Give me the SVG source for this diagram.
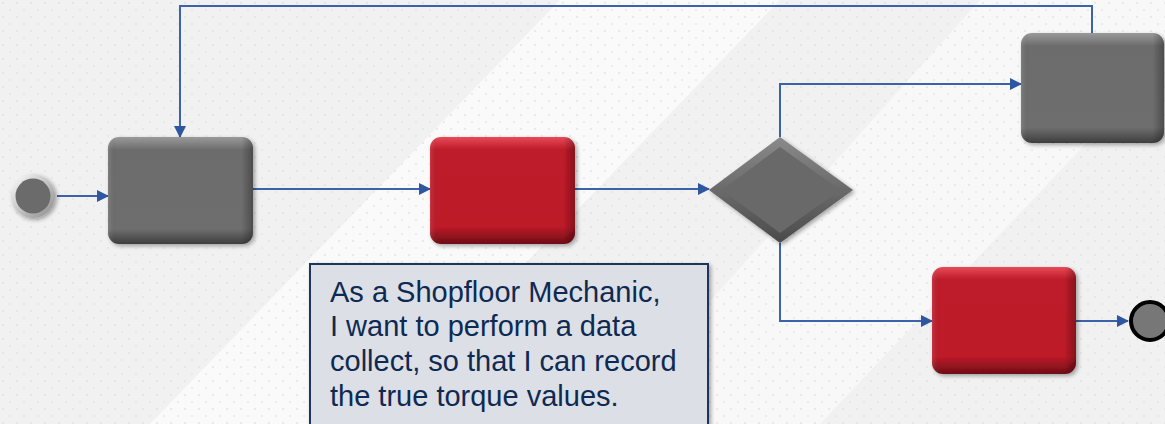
<svg xmlns="http://www.w3.org/2000/svg" width="1165" height="424" viewBox="0 0 1165 424">
<defs>
<style>
.conn{fill:none;stroke:#3c63a9;stroke-width:2;}
.txt{font-family:"Liberation Sans",Arial,sans-serif;font-size:29px;fill:#0e2a52;}
</style>
<pattern id="dots" width="14" height="14" patternUnits="userSpaceOnUse">
<circle cx="3" cy="3" r="1" fill="#e3e3e3"/>
<circle cx="10" cy="10" r="1" fill="#e6e6e6"/>
</pattern>
<linearGradient id="gGray" x1="0" y1="0" x2="0" y2="1">
<stop offset="0" stop-color="#9a9a9a"/>
<stop offset="0.12" stop-color="#6c6c6c"/>
<stop offset="0.86" stop-color="#6e6e6e"/>
<stop offset="1" stop-color="#3e3e3e"/>
</linearGradient>
<linearGradient id="gRed" x1="0" y1="0" x2="0" y2="1">
<stop offset="0" stop-color="#e84a58"/>
<stop offset="0.12" stop-color="#be1b29"/>
<stop offset="0.84" stop-color="#bd1a28"/>
<stop offset="1" stop-color="#6e0e17"/>
</linearGradient>
<linearGradient id="gSide" x1="0" y1="0" x2="1" y2="0">
<stop offset="0" stop-color="#fff" stop-opacity="0.12"/>
<stop offset="0.06" stop-color="#000" stop-opacity="0"/>
<stop offset="0.92" stop-color="#000" stop-opacity="0"/>
<stop offset="1" stop-color="#000" stop-opacity="0.3"/>
</linearGradient>
<linearGradient id="gDiam" x1="0" y1="0" x2="0" y2="1">
<stop offset="0" stop-color="#8a8a8a"/>
<stop offset="1" stop-color="#4a4a4a"/>
</linearGradient>
<linearGradient id="gRing" x1="0" y1="0" x2="1" y2="1">
<stop offset="0" stop-color="#ffffff"/>
<stop offset="1" stop-color="#8a8a8a"/>
</linearGradient>
<filter id="sh" x="-10%" y="-10%" width="130%" height="130%">
<feGaussianBlur in="SourceAlpha" stdDeviation="2"/>
<feOffset dx="2" dy="2"/>
<feComponentTransfer><feFuncA type="linear" slope="0.35"/></feComponentTransfer>
<feMerge><feMergeNode/><feMergeNode in="SourceGraphic"/></feMerge>
</filter>
<marker id="arr" markerWidth="12" markerHeight="12" refX="11" refY="6" orient="auto" markerUnits="userSpaceOnUse">
<path d="M0,0 L12,6 L0,12 Z" fill="#2f57a0"/>
</marker>
</defs>

<g id="background">
<rect width="1165" height="424" fill="#f1f1f1"/>
<polygon points="560,0 780,0 370,424 150,424" fill="#fafafa"/>
<polygon points="980,0 1165,0 1165,60 820,424 600,424" fill="#f8f8f8"/>
<rect width="1165" height="424" fill="url(#dots)"/>
</g>

<g id="connectors">
<path class="conn" d="M57,196 L108,196" marker-end="url(#arr)"/>
<path class="conn" d="M253,189 L430,189" marker-end="url(#arr)"/>
<path class="conn" d="M575,189 L709,189" marker-end="url(#arr)"/>
<path class="conn" d="M780,137 L780,84 L1021,84" marker-end="url(#arr)"/>
<path class="conn" d="M780,243 L780,321 L932,321" marker-end="url(#arr)"/>
<path class="conn" d="M1076,321 L1128,321" marker-end="url(#arr)"/>
<path class="conn" d="M1092,33 L1092,6 L180,6 L180,137" marker-end="url(#arr)"/>
</g>

<g id="start">
<circle cx="33" cy="196" r="22" fill="url(#gRing)" filter="url(#sh)"/>
<circle cx="33" cy="196" r="17.5" fill="#6b6b6b"/>
</g>

<g id="task1" filter="url(#sh)">
<rect x="108" y="137" width="145" height="107" rx="11" fill="url(#gGray)"/>
<rect x="108" y="137" width="145" height="107" rx="11" fill="url(#gSide)"/>
</g>

<g id="task2" filter="url(#sh)">
<rect x="430" y="137" width="145" height="107" rx="11" fill="url(#gRed)"/>
<rect x="430" y="137" width="145" height="107" rx="11" fill="url(#gSide)"/>
</g>

<g id="gateway" filter="url(#sh)">
<polygon points="709,190 780,137 853,190 780,243" fill="url(#gDiam)"/>
<polygon points="722,190 780,147 840,190 780,233" fill="#696969"/>
</g>

<g id="task3" filter="url(#sh)">
<rect x="1021" y="33" width="143" height="110" rx="11" fill="url(#gGray)"/>
<rect x="1021" y="33" width="143" height="110" rx="11" fill="url(#gSide)"/>
</g>

<g id="task4" filter="url(#sh)">
<rect x="932" y="267" width="144" height="107" rx="11" fill="url(#gRed)"/>
<rect x="932" y="267" width="144" height="107" rx="11" fill="url(#gSide)"/>
</g>

<g id="end">
<circle cx="1150" cy="321" r="19" fill="#777777" stroke="#000" stroke-width="4"/>
</g>

<g id="note">
<rect x="310" y="264" width="398" height="170" fill="#dcdfe5" stroke="#1e3658" stroke-width="2" filter="url(#sh)"/>
<text class="txt" x="330" y="302">As a Shopfloor Mechanic,</text>
<text class="txt" x="330" y="336">I want to perform a data</text>
<text class="txt" x="330" y="371">collect, so that I can record</text>
<text class="txt" x="330" y="406">the true torque values.</text>
</g>
</svg>
